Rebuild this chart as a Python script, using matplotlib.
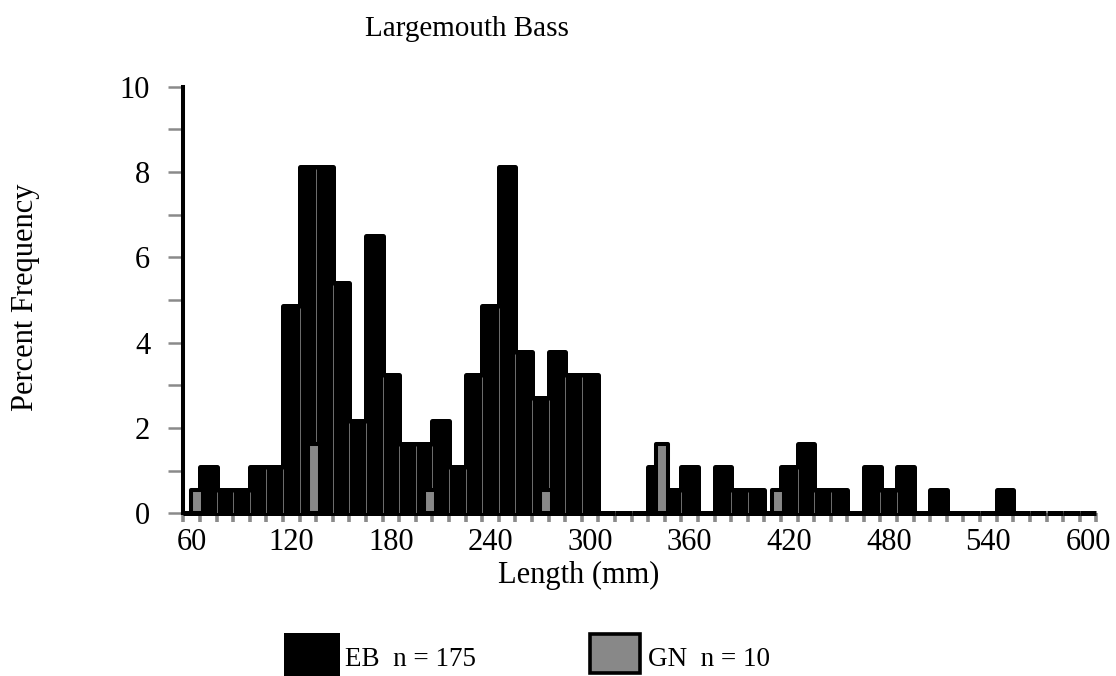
import matplotlib
matplotlib.use("Agg")
import matplotlib.pyplot as plt
from matplotlib.patches import Rectangle
import numpy as np

# ---- data -------------------------------------------------------------
bins_mm = list(range(60, 601, 10))  # 10-mm length classes
eb_pct = [0.00, 1.08, 0.54, 0.54, 1.08, 1.08, 4.86, 8.11, 8.11, 5.41,
          2.16, 6.49, 3.24, 1.62, 1.62, 2.16, 1.08, 3.24, 4.86, 8.11,
          3.78, 2.70, 3.78, 3.24, 3.24, 0.00, 0.00, 0.00, 1.08, 0.54,
          1.08, 0.00, 1.08, 0.54, 0.54, 0.00, 1.08, 1.62, 0.54, 0.54,
          0.00, 1.08, 0.54, 1.08, 0.00, 0.54, 0.00, 0.00, 0.00, 0.54,
          0.00, 0.00, 0.00, 0.00, 0.00]
gn_pct = [0.54, 0, 0, 0, 0, 0, 0, 1.62, 0, 0,
          0, 0, 0, 0, 0.54, 0, 0, 0, 0, 0,
          0, 0.54, 0, 0, 0, 0, 0, 0, 1.62, 0,
          0, 0, 0, 0, 0, 0.54, 0, 0, 0, 0,
          0, 0, 0, 0, 0, 0, 0, 0, 0, 0,
          0, 0, 0, 0, 0]
xtick_labels = ["60", "120", "180", "240", "300", "360", "420", "480", "540", "600"]
ytick_values = list(range(0, 11))
ytick_labels = ["0", "", "2", "", "4", "", "6", "", "8", "", "10"]
title = "Largemouth Bass"
xlabel = "Length (mm)"
ylabel = "Percent Frequency"
legend_labels = ["EB  n = 175", "GN  n = 10"]

# ---- style ------------------------------------------------------------
plt.rcParams['font.family'] = ['Liberation Serif', 'DejaVu Serif']
FS = 22
GREY = '#888888'
TICKGREY = '#8a8a8a'

W, H = 1116, 676
fig = plt.figure(figsize=(W / 100, H / 100), dpi=100)
ax_l, ax_r, ax_t, ax_b = 183.3, 1096.3, 86.7, 513.3
ax = fig.add_axes([ax_l / W, 1 - ax_b / H, (ax_r - ax_l) / W, (ax_b - ax_t) / H])

n = len(bins_mm)
x = np.arange(n)
eb = np.array(eb_pct)
gn = np.array(gn_pct)

ax.set_axisbelow(True)
ax.bar(x, eb, width=1.0, color='black', edgecolor='black', linewidth=3.6,
       joinstyle='round', clip_on=False, zorder=2)
# faint separators between touching bars
sep_x = x[:-1] + 0.5
sep_top = np.minimum(eb[:-1], eb[1:])
mask = sep_top > 0
ax.vlines(sep_x[mask], 0, sep_top[mask] - 0.05, colors='#9a9a9a', linewidth=0.5, zorder=3)

gm = gn > 0
ax.bar(x[gm] + 0.35, gn[gm], width=0.72, color=GREY, edgecolor='black', linewidth=2.9,
       joinstyle='round', clip_on=False, zorder=4)

ax.set_xlim(-0.5, n - 0.5)
ax.set_ylim(0, 10)

for s in ['top', 'right', 'bottom']:
    ax.spines[s].set_visible(False)
ax.spines['left'].set_linewidth(2.9)
ax.spines['left'].set_color('black')
ax.spines['left'].set_zorder(5)
ax.spines['left'].set_capstyle('projecting')

# x ticks: labels at every 6th class centre, grey dots at class boundaries
lab_pos = [bins_mm.index(int(v)) for v in xtick_labels]
ax.set_xticks(lab_pos)
ax.set_xticklabels(xtick_labels, fontsize=FS)
ax.set_xticks(np.arange(n + 1) - 0.5, minor=True)
ax.tick_params(axis='x', which='major', length=0, pad=10.5)
ax.tick_params(axis='x', which='minor', length=6.5, width=2.6, color=TICKGREY, direction='out')

ax.set_yticks(ytick_values)
ax.set_yticklabels(ytick_labels, fontsize=FS)
ax.tick_params(axis='y', which='major', length=10.8, width=1.8, color=TICKGREY,
               direction='out', pad=13)

# titles / labels (figure pixel coordinates)
fig.text(365 / W, 1 - 36 / H, title, fontsize=FS - 1, ha='left', va='baseline')
fig.text(579 / W, 1 - 583 / H, xlabel, fontsize=FS, ha='center', va='baseline')
fig.text(26 / W, 1 - 297 / H, ylabel, fontsize=FS, ha='center', va='center', rotation=90)

# legend
LFS = 19.5
fig.patches.append(Rectangle((284 / W, 1 - 676 / H), 56 / W, 43 / H, transform=fig.transFigure,
                             facecolor='black', edgecolor='black', linewidth=0))
fig.text(345 / W, 1 - 666 / H, legend_labels[0], fontsize=LFS, ha='left', va='baseline')
fig.patches.append(Rectangle((590 / W, 1 - 673 / H), 50 / W, 39 / H, transform=fig.transFigure,
                             facecolor=GREY, edgecolor='black', linewidth=2.6))
fig.text(648 / W, 1 - 666 / H, legend_labels[1], fontsize=LFS, ha='left', va='baseline')

fig.savefig('out.png', dpi=100)
